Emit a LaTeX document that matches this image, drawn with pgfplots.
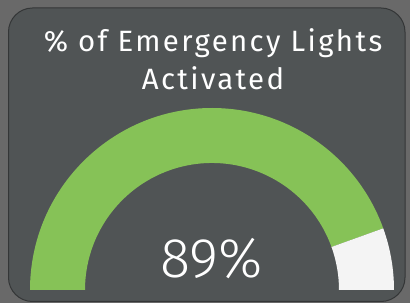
\documentclass[border=0pt]{standalone}
\usepackage{pgfplots}
\pgfplotsset{compat=1.18}
\usepackage{fontspec}
\setmainfont{Fira Sans}
\newfontfamily\titlefont[LetterSpace=8]{Fira Sans}
\newfontfamily\lightfont{Fira Sans Light}
\definecolor{outerbg}{HTML}{696969}
\definecolor{cardbg}{HTML}{505455}
\definecolor{cardborder}{HTML}{343637}
\definecolor{gaugegreen}{HTML}{86C257}
\definecolor{gaugerest}{HTML}{F4F4F4}
\begin{document}
\begin{tikzpicture}
\begin{axis}[
  width=410bp, height=303bp, scale only axis,
  xmin=0, xmax=410, ymin=0, ymax=303,
  hide axis, clip=false]
  \pgfmathsetmacro{\gval}{89}
  \pgfmathsetmacro{\gang}{180-1.8*\gval}
  \fill[outerbg] (axis cs:0,0) rectangle (axis cs:410,303);
  \fill[cardbg, draw=cardborder, line width=1bp, rounded corners=24bp] (axis cs:8.5,1.5) rectangle (axis cs:405,295);
  % green part
  \fill[gaugegreen] (axis cs:30,13) arc[start angle=180, end angle=\gang, radius=182bp]
     -- ++(\gang+180:55bp) arc[start angle=\gang, end angle=180, radius=127bp] -- cycle;
  % remainder
  \fill[gaugerest] (axis cs:212,13) ++(\gang:182bp) arc[start angle=\gang, end angle=0, radius=182bp]
     -- ++(-55bp,0) arc[start angle=0, end angle=\gang, radius=127bp] -- cycle;
  \node[text=white, font=\titlefont\fontsize{29.5}{38}\selectfont, anchor=base] at (axis cs:213,251) {\% of Emergency Lights};
  \node[text=white, font=\titlefont\fontsize{29.5}{38}\selectfont, anchor=base] at (axis cs:213,213) {Activated};
  \node[text=white, font=\lightfont\fontsize{56}{60}\selectfont, anchor=base] at (axis cs:212,26) {89\%};
\end{axis}
\end{tikzpicture}
\end{document}
